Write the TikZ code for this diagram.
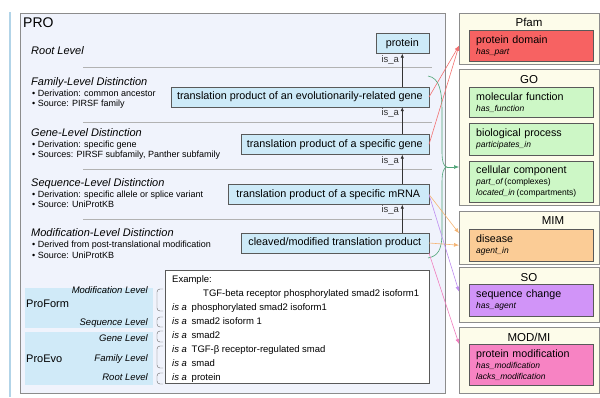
\documentclass[tikz,border=0pt]{standalone}
\usepackage{fontspec}
\setmainfont{Liberation Sans}
\usetikzlibrary{arrows.meta, positioning, calc}

\definecolor{proback}{RGB}{240,243,252}
\definecolor{levelblue}{RGB}{205,234,248}
\definecolor{bandblue}{RGB}{208,234,248}
\definecolor{dbcream}{RGB}{253,252,234}
\definecolor{pfamred}{RGB}{247,98,98}
\definecolor{gogreen}{RGB}{205,247,198}
\definecolor{mimorange}{RGB}{251,204,150}
\definecolor{sopurple}{RGB}{209,148,248}
\definecolor{modpink}{RGB}{247,131,195}
\definecolor{sidebar}{RGB}{178,212,232}
\definecolor{redlink}{RGB}{242,112,112}
\definecolor{greenlink}{RGB}{80,165,120}
\definecolor{orangelink}{RGB}{245,180,115}
\definecolor{purplelink}{RGB}{190,140,240}
\definecolor{pinklink}{RGB}{240,125,190}

\newcommand{\fsz}[2]{\fontsize{#1}{#2}\selectfont}
\newcommand{\relname}[1]{{\fsz{8.5}{10}\itshape #1}}

\begin{document}
\begin{tikzpicture}[x=1pt, y=-1pt,
    levelbox/.style={draw=black!65, fill=levelblue, anchor=east, inner sep=0pt, minimum height=20, font=\fsz{10.8}{12}},
    isa/.style={-{Latex[length=4pt, width=3.5pt]}, black!80, semithick},
    isalbl/.style={left, pos=0.8, inner sep=3pt, font=\fsz{9.5}{10}},
    dbbox/.style={draw=black!45, fill=dbcream, anchor=north west, minimum width=140, inner sep=0pt},
    dbtitle/.style={font=\fsz{11.5}{12}},
    termbox/.style={draw=black!65, anchor=north west, text width=110, align=left, inner xsep=7pt, inner ysep=0pt, font=\fsz{10.7}{11}},
    heading/.style={anchor=base west, inner sep=0pt, font=\fsz{11}{12}\itshape},
    bullet/.style={anchor=base west, inner sep=0pt, font=\fsz{9}{10}},
    sepline/.style={black!30},
    lvl/.style={anchor=base east, inner sep=0pt, font=\fsz{9.5}{10}\itshape},
    band/.style={fill=bandblue, anchor=north west, minimum width=128, inner sep=0pt},
    bracket/.style={black!60, rounded corners=3pt},
    extext/.style={anchor=base west, inner sep=0pt, font=\fsz{9.5}{10}},
    link/.style={-{Latex[length=5pt, width=4pt]}, line width=0.6pt}
]
\useasboundingbox (0,0) rectangle (600,397);

% Side bar
\draw[sidebar, line width=2pt] (10,12) -- (10,397);

% PRO panel
\node[draw=black!45, fill=proback, anchor=north west, minimum width=425, minimum height=380, inner sep=0pt] (pro) at (20,13) {};
\node[anchor=north west, inner sep=0pt, font=\fsz{14}{15}] (protitle) at (23,18) {PRO};

% Level descriptions
\node[heading] (rootlvl) at (31,54) {Root Level};

\node[heading] (famlvl) at (31,85) {Family-Level Distinction};
\node[bullet] (famder) at (32,96) {• Derivation: common ancestor};
\node[bullet] (famsrc) at (32,106) {• Source: PIRSF family};

\node[heading] (genelvl) at (31,136) {Gene-Level Distinction};
\node[bullet] (geneder) at (32,147) {• Derivation: specific gene};
\node[bullet] (genesrc) at (32,157) {• Sources: PIRSF subfamily, Panther subfamily};

\node[heading] (seqlvl) at (31,186) {Sequence-Level Distinction};
\node[bullet] (seqder) at (32,197) {• Derivation: specific allele or splice variant};
\node[bullet] (seqsrc) at (32,207) {• Source: UniProtKB};

\node[heading] (modlvl) at (31,236) {Modification-Level Distinction};
\node[bullet] (modder) at (32,247) {• Derived from post-translational modification};
\node[bullet] (modsrc) at (32,258) {• Source: UniProtKB};

\foreach \y in {67,122,169,219}
    \draw[sepline] (83,\y) -- (432,\y);

% Term hierarchy
\node[levelbox, minimum width=53] (protein) at (429,43.5) {protein};
\node[levelbox, minimum width=258] (evo) at (429,97) {translation product of an evolutionarily-related gene};
\node[levelbox, minimum width=188] (gene) at (429,144.5) {translation product of a specific gene};
\node[levelbox, minimum width=201] (mrna) at (429,194.5) {translation product of a specific mRNA};
\node[levelbox, minimum width=188] (cleaved) at (429,243) {cleaved/modified translation product};

\draw[isa] (evo.north -| protein.south) -- (protein.south) node[isalbl] {is\_a};
\draw[isa] (gene.north -| protein.south) -- (evo.south -| protein.south) node[isalbl] {is\_a};
\draw[isa] (mrna.north -| protein.south) -- (gene.south -| protein.south) node[isalbl] {is\_a};
\draw[isa] (cleaved.north -| protein.south) -- (mrna.south -| protein.south) node[isalbl] {is\_a};

% ProForm / ProEvo
\node[band, minimum height=40] (proform) at (25,288) {};
\node[band, minimum height=53] (proevo) at (25,332) {};
\node[anchor=base west, inner sep=0pt, font=\fsz{11}{12}] (proformtxt) at (26,307) {ProForm};
\node[anchor=base west, inner sep=0pt, font=\fsz{11}{12}] (proevotxt) at (26,362) {ProEvo};

\node[lvl] (lmod) at (148,293) {Modification Level};
\node[lvl] (lseq) at (148,325) {Sequence Level};
\node[lvl] (lgene) at (148,341) {Gene Level};
\node[lvl] (lfam) at (148,361) {Family Level};
\node[lvl] (lroot) at (148,380) {Root Level};

\foreach \a/\b in {289/311, 317/327, 331/342, 346/368, 373/384}
    \draw[bracket] (163,\a) -- (157,\a) -- (157,\b) -- (163,\b);

% Example
\node[draw=black!65, fill=white, anchor=north west, minimum width=264, minimum height=113, inner sep=0pt] (example) at (165,270) {};
\node[extext] (extitle) at (172,282) {Example:};
\node[extext] (exterm) at (203,296) {TGF-beta receptor phosphorylated smad2 isoform1};
\foreach \y/\txt in {310/phosphorylated smad2 isoform1, 324/smad2 isoform 1, 338/smad2,
                     352/TGF-β receptor-regulated smad, 366/smad, 380/protein}
    \node[extext] (isa\y) at (172,\y) {\textit{is a}\enspace\txt};

% Pfam
\node[dbbox, minimum height=51] (pfam) at (459,13) {};
\node[dbtitle] (pfamtitle) at (529,22) {Pfam};
\node[termbox, fill=pfamred, minimum height=31] (domain) at (469,30) {protein domain\\\relname{has\_part}};

% GO
\node[dbbox, minimum height=136] (go) at (459,69) {};
\node[dbtitle] (gotitle) at (529,80) {GO};
\node[termbox, fill=gogreen, minimum height=30] (molfun) at (469,87) {molecular function\\\relname{has\_function}};
\node[termbox, fill=gogreen, minimum height=32] (bioproc) at (469,123) {biological process\\\relname{participates\_in}};
\node[termbox, fill=gogreen, minimum height=41] (cellcomp) at (469,161) {cellular component\\\relname{part\_of}\,{\fsz{8.5}{10}(complexes)}\\\relname{located\_in}\,{\fsz{8.5}{10}(compartments)}};

% MIM
\node[dbbox, minimum height=53] (mim) at (459,211) {};
\node[dbtitle] (mimtitle) at (553,221) {MIM};
\node[termbox, fill=mimorange, minimum height=32] (disease) at (469,229) {disease\\\relname{agent\_in}};

% SO
\node[dbbox, minimum height=55] (so) at (459,267) {};
\node[dbtitle] (sotitle) at (529,278) {SO};
\node[termbox, fill=sopurple, minimum height=32] (seqchange) at (469,284) {sequence change\\\relname{has\_agent}};

% MOD/MI
\node[dbbox, minimum height=66] (modmi) at (459,327) {};
\node[dbtitle] (modtitle) at (529,337) {MOD/MI};
\node[termbox, fill=modpink, minimum height=41] (protmod) at (469,344) {protein modification\\\relname{has\_modification}\\\relname{lacks\_modification}};

% Cross links
\draw[link, redlink] (evo.east) -- (pfam.west |- domain.center);
\draw[link, redlink] (gene.east) -- (pfam.west |- domain.center);

\coordinate (gtop) at (428,76);
\coordinate (gbot) at (428,258);
\coordinate (gtip) at (447,167);
\draw[greenlink, line width=0.6pt] (gtop) .. controls (440,78) and (442,92) .. (442,112) -- (442,152)
    .. controls (442,162) and (444,167) .. (gtip)
    .. controls (444,167) and (442,172) .. (442,182) -- (442,232)
    .. controls (442,250) and (438,256) .. (gbot);
\draw[link, greenlink] (gtip) -- (go.west |- gtip);

\draw[link, orangelink] (mrna.east) -- ($(mim.west)+(0,-4.5)$);
\draw[link, orangelink] (cleaved.east) -- (mim.west |- disease.center);
\draw[link, purplelink] (mrna.east) -- ($(so.west)+(0,-3)$);
\draw[link, pinklink] (cleaved.south east) -- (modmi.west |- protmod.north);
\end{tikzpicture}
\end{document}
